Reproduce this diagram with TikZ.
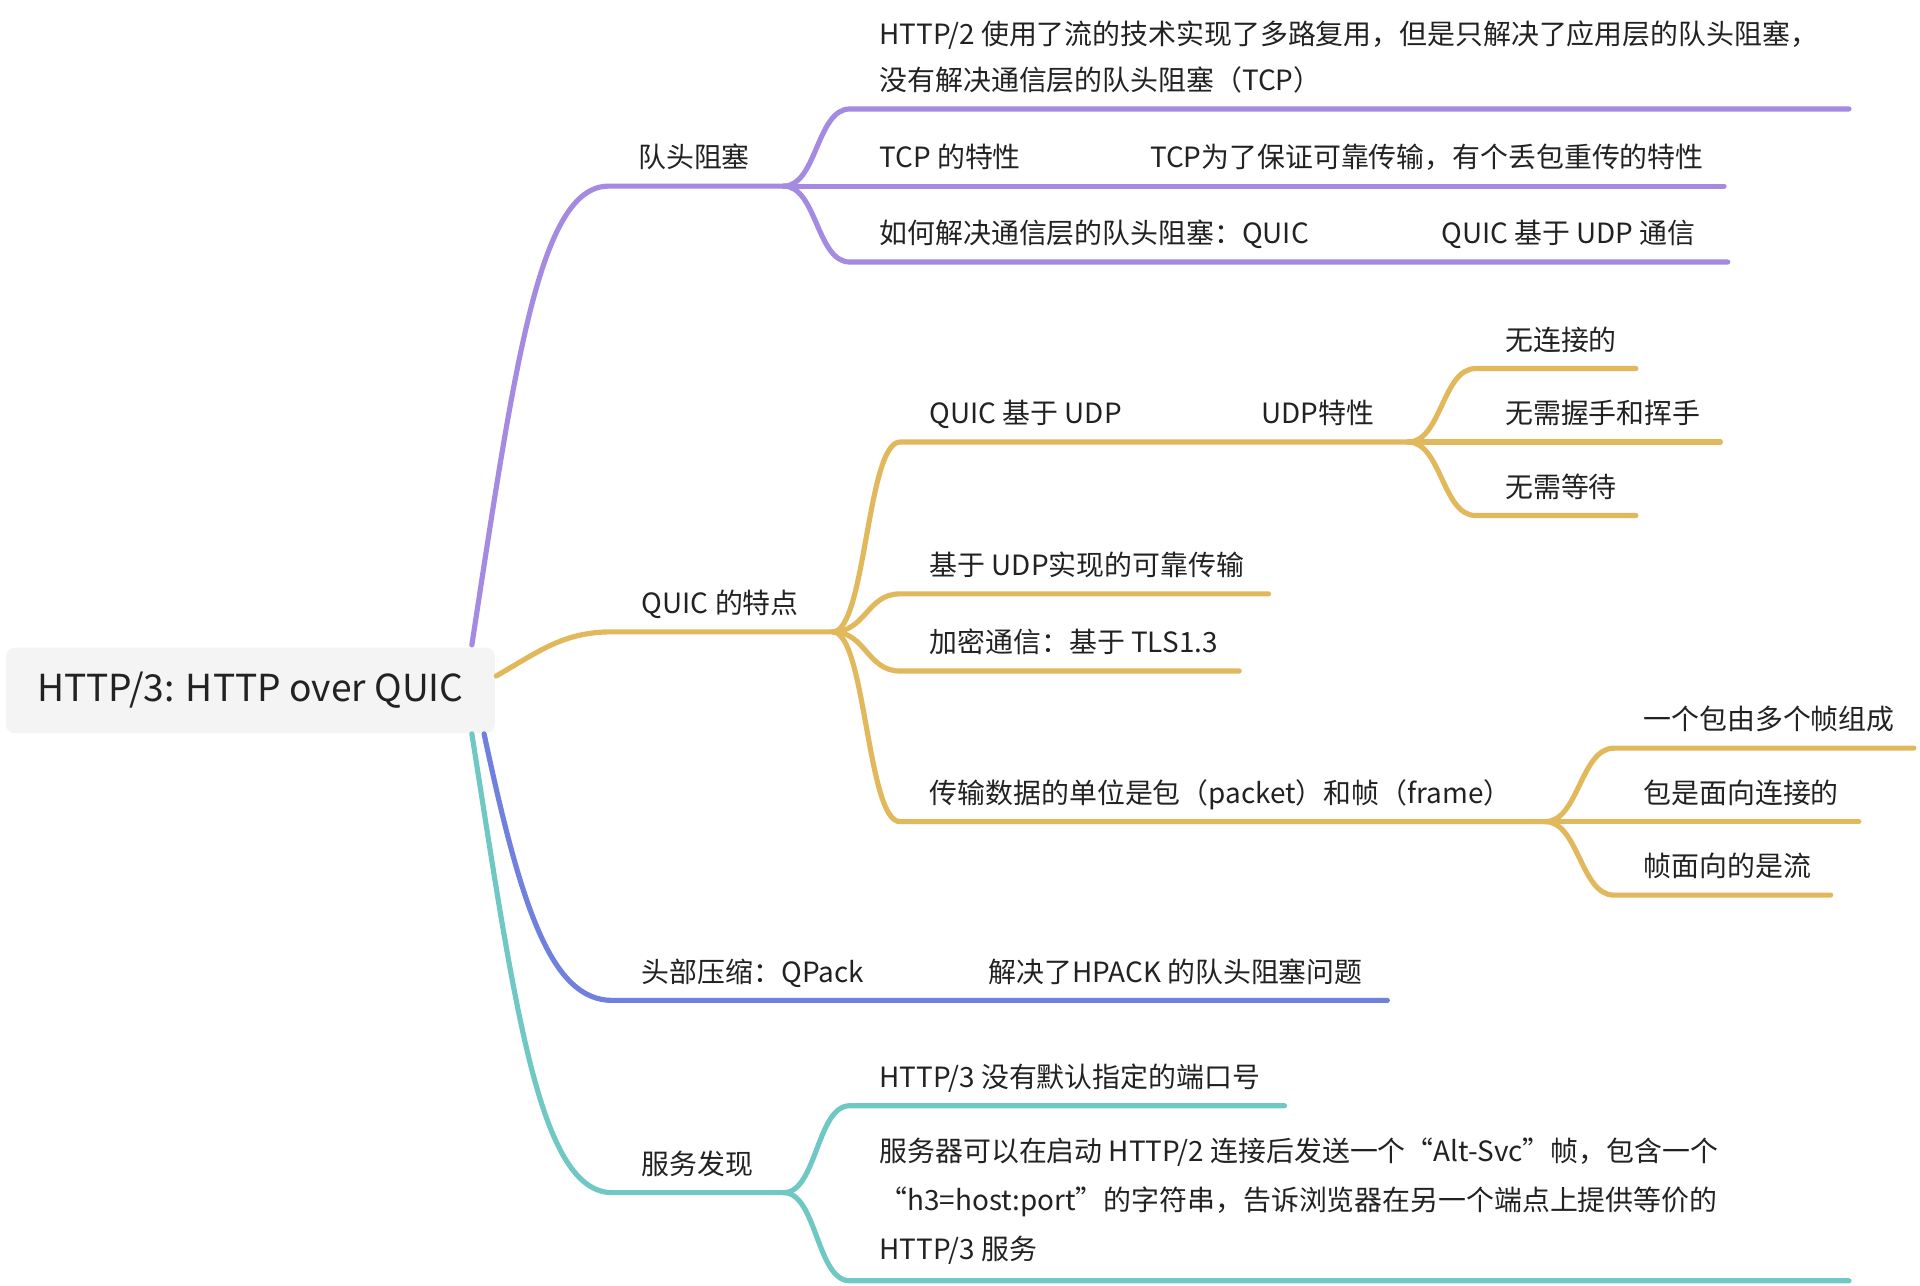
\documentclass[tikz,border=0pt]{standalone}
\usepackage{fontspec}
\setmainfont{Noto Sans CJK SC}
\usetikzlibrary{calc}

\begin{document}
\begin{tikzpicture}[x=0.025cm, y=-0.025cm,
    rootbox/.style={fill=rootFill, rounded corners=5pt, minimum width=9.975cm, minimum height=1.75cm,
        font=\fontsize{21.6pt}{26pt}\selectfont, text=textColour},
    topic/.style={anchor=base west, inner sep=0pt, shift={(24,-15)},
        font=\fontsize{16.2pt}{20pt}\selectfont, text=textColour},
    longtopic/.style={topic, anchor=south west, shift={(0,2)}, align=left},
    branch/.style={line width=3pt, line cap=round}]
    % Define colours
    \definecolor{textColour}{HTML}{222222}
    \definecolor{rootFill}{HTML}{F4F4F4}
    \definecolor{purpleLine}{HTML}{A48BE1}
    \definecolor{yellowLine}{HTML}{E2B85C}
    \definecolor{blueLine}{HTML}{6F80DE}
    \definecolor{tealLine}{HTML}{70C8C4}

    % Fix the picture size
    \useasboundingbox (0,0) rectangle (1568,1050);

    % Draw the root
    \node[rootbox] (root) at (204.5,564) {HTTP/3: HTTP over QUIC};

    % Define coordinates for the first topic
    \coordinate (holA) at (497,152);
    \coordinate (holB) at (640,152);
    \coordinate (hol1A) at (694,89);
    \coordinate (hol1B) at (1510,89);
    \coordinate (hol2A) at (694,152);
    \coordinate (hol2B) at (915,152);
    \coordinate (hol2aB) at (1408,152);
    \coordinate (hol3A) at (694,214);
    \coordinate (hol3B) at (1153,214);
    \coordinate (hol3aB) at (1411,214);

    % Label the first topic
    \node[topic] (hol) at (holA) {队头阻塞};
    \node[longtopic, font=\fontsize{16.2pt}{26.2pt}\selectfont] (hol1) at (hol1A)
        {HTTP/2 使用了流的技术实现了多路复用，但是只解决了应用层的队头阻塞，\\没有解决通信层的队头阻塞（TCP）};
    \node[topic] (hol2) at (hol2A) {TCP 的特性};
    \node[topic] (hol2a) at (hol2B) {TCP为了保证可靠传输，有个丢包重传的特性};
    \node[topic] (hol3) at (hol3A) {如何解决通信层的队头阻塞：QUIC};
    \node[topic] (hol3a) at (hol3B) {QUIC 基于 UDP 通信};

    % Draw the first topic
    \draw[branch, purpleLine] ($(root.north east)+(-19,-2)$) .. controls +(35,-227) and +(-57,0) .. (holA) -- (holB);
    \draw[branch, purpleLine] (holB) .. controls +(27,0) and +(-27,0) .. (hol1A) -- (hol1B);
    \draw[branch, purpleLine] (holB) -- (hol2aB);
    \draw[branch, purpleLine] (holB) .. controls +(27,0) and +(-27,0) .. (hol3A) -- (hol3aB);

    % Define coordinates for the second topic
    \coordinate (featA) at (500,516);
    \coordinate (featB) at (680,516);
    \coordinate (feat1A) at (735,361);
    \coordinate (feat1B) at (1006,361);
    \coordinate (feat1aB) at (1150,361);
    \coordinate (feat1a1A) at (1205,301);
    \coordinate (feat1a1B) at (1336,301);
    \coordinate (feat1a2A) at (1205,361);
    \coordinate (feat1a2B) at (1405,361);
    \coordinate (feat1a3A) at (1205,421);
    \coordinate (feat1a3B) at (1336,421);
    \coordinate (feat2A) at (735,485);
    \coordinate (feat2B) at (1036,485);
    \coordinate (feat3A) at (735,548);
    \coordinate (feat3B) at (1012,548);
    \coordinate (feat4A) at (735,671);
    \coordinate (feat4B) at (1262,671);
    \coordinate (feat4aA) at (1318,611);
    \coordinate (feat4aB) at (1563,611);
    \coordinate (feat4bA) at (1318,671);
    \coordinate (feat4bB) at (1518,671);
    \coordinate (feat4cA) at (1318,731);
    \coordinate (feat4cB) at (1495,731);

    % Label the second topic
    \node[topic] (feat) at (featA) {QUIC 的特点};
    \node[topic] (feat1) at (feat1A) {QUIC 基于 UDP};
    \node[topic] (feat1a) at (feat1B) {UDP特性};
    \node[topic] (feat1a1) at (feat1a1A) {无连接的};
    \node[topic] (feat1a2) at (feat1a2A) {无需握手和挥手};
    \node[topic] (feat1a3) at (feat1a3A) {无需等待};
    \node[topic] (feat2) at (feat2A) {基于 UDP实现的可靠传输};
    \node[topic] (feat3) at (feat3A) {加密通信：基于 TLS1.3};
    \node[topic] (feat4) at (feat4A) {传输数据的单位是包（packet）和帧（frame）};
    \node[topic] (feat4a) at (feat4aA) {一个包由多个帧组成};
    \node[topic] (feat4b) at (feat4bA) {包是面向连接的};
    \node[topic] (feat4c) at (feat4cA) {帧面向的是流};

    % Draw the second topic
    \draw[branch, yellowLine] ($(root.east)+(1,-12)$) .. controls +(35,-20) and +(-40,0) .. (featA) -- (featB);
    \draw[branch, yellowLine] (featB) .. controls +(27,0) and +(-27,0) .. (feat1A) -- (feat1aB);
    \draw[branch, yellowLine] (feat1aB) .. controls +(27,0) and +(-27,0) .. (feat1a1A) -- (feat1a1B);
    \draw[branch, yellowLine] (feat1aB) -- (feat1a2B);
    \draw[branch, yellowLine] (feat1aB) .. controls +(27,0) and +(-27,0) .. (feat1a3A) -- (feat1a3B);
    \draw[branch, yellowLine] (featB) .. controls +(27,0) and +(-27,0) .. (feat2A) -- (feat2B);
    \draw[branch, yellowLine] (featB) .. controls +(27,0) and +(-27,0) .. (feat3A) -- (feat3B);
    \draw[branch, yellowLine] (featB) .. controls +(27,0) and +(-27,0) .. (feat4A) -- (feat4B);
    \draw[branch, yellowLine] (feat4B) .. controls +(27,0) and +(-27,0) .. (feat4aA) -- (feat4aB);
    \draw[branch, yellowLine] (feat4B) -- (feat4bB);
    \draw[branch, yellowLine] (feat4B) .. controls +(27,0) and +(-27,0) .. (feat4cA) -- (feat4cB);

    % Define coordinates for the third topic
    \coordinate (qpackA) at (500,817);
    \coordinate (qpackB) at (783,817);
    \coordinate (qpack1B) at (1133,817);

    % Label and draw the third topic
    \node[topic] (qpack) at (qpackA) {头部压缩：QPack};
    \node[topic] (qpack1) at (qpackB) {解决了HPACK 的队头阻塞问题};
    \draw[branch, blueLine] ($(root.south east)+(-9,0)$) .. controls +(30,141) and +(-50,0) .. (qpackA) -- (qpack1B);

    % Define coordinates for the fourth topic
    \coordinate (discA) at (500,974);
    \coordinate (discB) at (640,974);
    \coordinate (disc1A) at (694,903);
    \coordinate (disc1B) at (1049,903);
    \coordinate (disc2A) at (694,1046);
    \coordinate (disc2B) at (1510,1046);

    % Label the fourth topic
    \node[topic] (disc) at (discA) {服务发现};
    \node[topic] (disc1) at (disc1A) {HTTP/3 没有默认指定的端口号};
    \node[longtopic, font=\fontsize{16.2pt}{28.4pt}\selectfont] (disc2) at (disc2A)
        {服务器可以在启动 HTTP/2 连接后发送一个“Alt-Svc”帧，包含一个\\“h3=host:port”的字符串，告诉浏览器在另一个端点上提供等价的\\HTTP/3 服务};

    % Draw the fourth topic
    \draw[branch, tealLine] ($(root.south east)+(-19,0)$) .. controls +(35,221) and +(-60,0) .. (discA) -- (discB);
    \draw[branch, tealLine] (discB) .. controls +(27,0) and +(-27,0) .. (disc1A) -- (disc1B);
    \draw[branch, tealLine] (discB) .. controls +(27,0) and +(-27,0) .. (disc2A) -- (disc2B);

\end{tikzpicture}
\end{document}
